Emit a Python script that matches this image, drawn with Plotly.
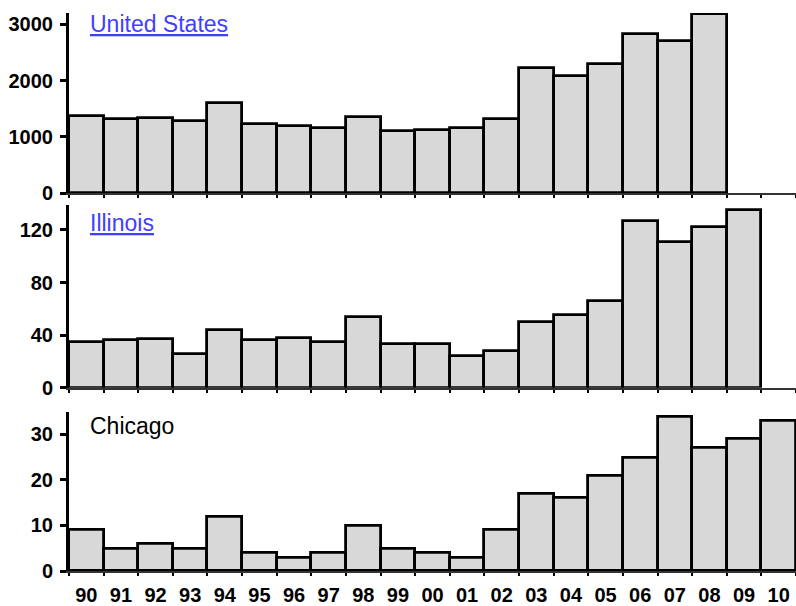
import plotly.graph_objects as go

years = ["90", "91", "92", "93", "94", "95", "96", "97", "98", "99", "00",
         "01", "02", "03", "04", "05", "06", "07", "08", "09", "10"]

us_values = [1365, 1310, 1335, 1275, 1605, 1235, 1190, 1160, 1345, 1100, 1120,
             1165, 1315, 2225, 2090, 2300, 2825, 2710, 3175, None, None]
il_values = [35, 36, 37, 26, 44, 36, 38, 35, 54, 33, 33,
             24, 28, 50, 55, 66, 127, 111, 122, 135, None]
chi_values = [9, 5, 6, 5, 12, 4, 3, 4, 10, 5, 4,
              3, 9, 17, 16, 21, 25, 34, 27, 29, 33]

panel_titles = ["United States", "Illinois", "Chicago"]
y_ticks = [[0, 1000, 2000, 3000], [0, 40, 80, 120], [0, 10, 20, 30]]
y_ranges = [[0, 3200], [0, 139], [0, 35]]
domains = [[0.677, 1.0], [0.3285, 0.656], [0.0, 0.2855]]

BAR_FILL = "#d8d8d8"
FONT = "Liberation Sans"

fig = go.Figure()
series = [us_values, il_values, chi_values]
for i, vals in enumerate(series):
    sfx = "" if i == 0 else str(i + 1)
    fig.add_trace(go.Bar(
        x=years, y=vals,
        xaxis="x" + sfx, yaxis="y" + sfx,
        marker=dict(color=BAR_FILL, line=dict(color="black", width=2.8)),
        showlegend=False,
        hoverinfo="skip",
    ))

layout = dict(
    width=796, height=606,
    margin=dict(l=69, r=0, t=13, b=35, autoexpand=False),
    paper_bgcolor="white", plot_bgcolor="white",
    bargap=0,
    font=dict(family=FONT, color="black"),
)

for i in range(3):
    sfx = "" if i == 0 else str(i + 1)
    layout["xaxis" + sfx] = dict(
        type="category",
        categoryorder="array", categoryarray=years,
        range=[-0.5, 20.5],
        anchor="y" + sfx,
        showline=True, linecolor="#333333", linewidth=2,
        ticks="outside", tickson="boundaries", ticklen=3, tickwidth=2, tickcolor="black",
        showgrid=False, zeroline=False,
        showticklabels=(i == 2),
        ticklabelstandoff=5,
        tickfont=dict(family=FONT, size=20, color="black", weight="bold"),
        fixedrange=True,
    )
    layout["yaxis" + sfx] = dict(
        domain=domains[i],
        anchor="x" + sfx,
        range=y_ranges[i],
        tickmode="array", tickvals=y_ticks[i],
        ticktext=[str(v) for v in y_ticks[i]],
        showline=True, linecolor="black", linewidth=3,
        ticks="outside", ticklen=6, tickwidth=3, tickcolor="black",
        showgrid=False, zeroline=False,
        ticklabelstandoff=3,
        tickfont=dict(family=FONT, size=20, color="black", weight="bold"),
        fixedrange=True,
    )

fig.update_layout(**layout)

title_y = [0.980, 0.624, 0.260]
title_colors = ["#4040ff", "#4040ff", "black"]
for i, t in enumerate(panel_titles):
    text = f"<u>{t}</u>" if i < 2 else t
    fig.add_annotation(
        text=text, xref="paper", yref="paper",
        x=0.026, y=title_y[i], xanchor="left", yanchor="middle",
        showarrow=False,
        font=dict(family=FONT, size=23, color=title_colors[i]),
    )

fig.write_html(
    "out.html",
    config={"displayModeBar": False},
    post_script="document.body.style.margin='0';"
                "document.body.style.overflow='hidden';"
                "document.documentElement.style.overflow='hidden';",
)
